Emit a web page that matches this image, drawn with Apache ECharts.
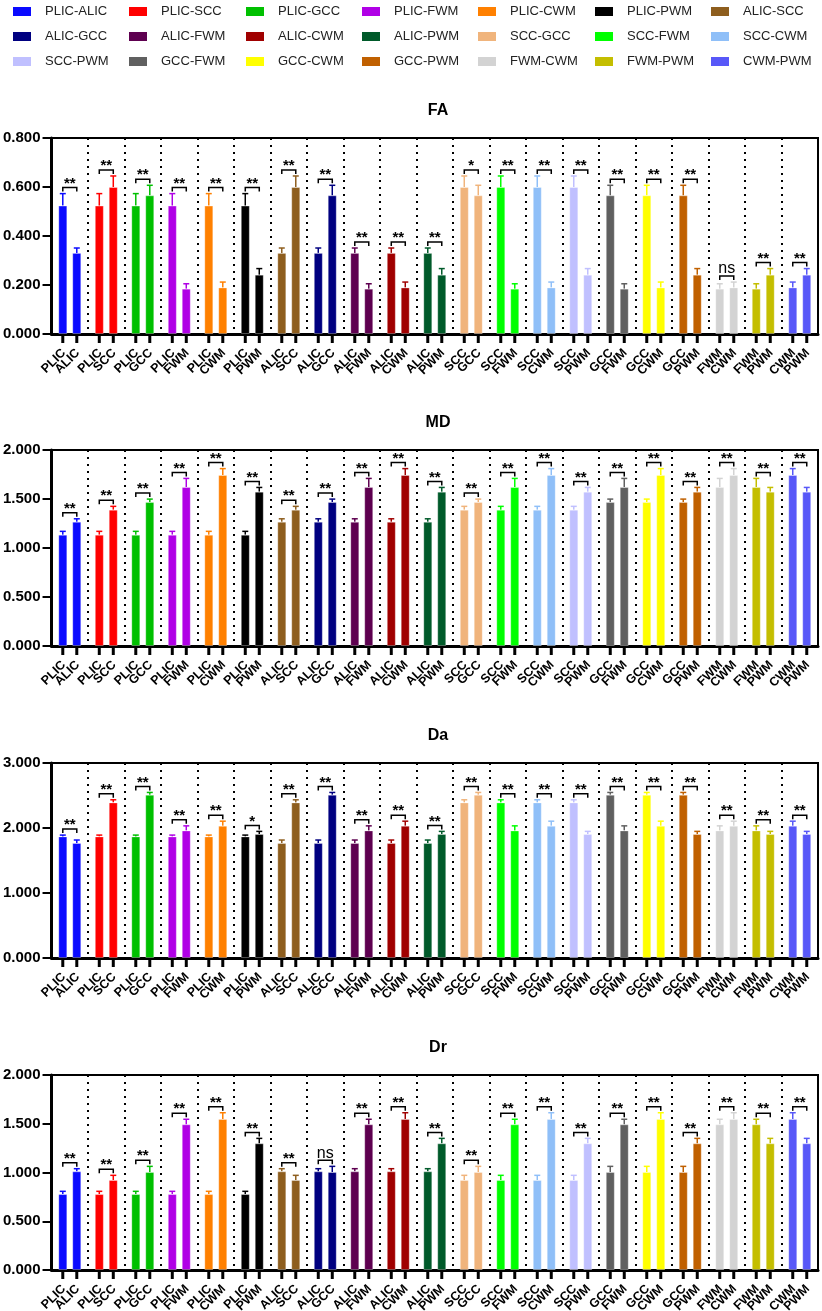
<!DOCTYPE html>
<html>
<head>
<meta charset="utf-8">
<script src="https://cdn.jsdelivr.net/npm/echarts@6/dist/echarts.min.js"></script>
<style>
  html, body { margin: 0; padding: 0; background: #fff; }
  #chart { width: 822px; height: 1311px; }
</style>
</head>
<body>
<div id="chart"></div>
<script>
// regions and the 21 pairwise comparisons
const regions = ['PLIC', 'ALIC', 'SCC', 'GCC', 'FWM', 'CWM', 'PWM'];
const pairs = [
  ['PLIC', 'ALIC'], ['PLIC', 'SCC'], ['PLIC', 'GCC'], ['PLIC', 'FWM'], ['PLIC', 'CWM'], ['PLIC', 'PWM'],
  ['ALIC', 'SCC'], ['ALIC', 'GCC'], ['ALIC', 'FWM'], ['ALIC', 'CWM'], ['ALIC', 'PWM'],
  ['SCC', 'GCC'], ['SCC', 'FWM'], ['SCC', 'CWM'], ['SCC', 'PWM'],
  ['GCC', 'FWM'], ['GCC', 'CWM'], ['GCC', 'PWM'],
  ['FWM', 'CWM'], ['FWM', 'PWM'],
  ['CWM', 'PWM']
];
const pairColors = [
  '#0a0aff', '#ff0000', '#00c000', '#b000e6', '#ff8000', '#000000', '#8e5e1e',
  '#000080', '#5e0050', '#a00000', '#005a2a', '#f0b47c', '#00ff00', '#8fbff8',
  '#c0c0ff', '#606060', '#ffff00', '#c06000', '#d3d3d3', '#c4be00', '#5858f8'
];

// mean and error (SD) per region, order as in regions
const faMean = [0.524, 0.331, 0.600, 0.566, 0.185, 0.190, 0.242];
const faErr  = [0.049, 0.020, 0.045, 0.041, 0.020, 0.022, 0.025];
const mdMean = [1.136, 1.268, 1.391, 1.469, 1.622, 1.745, 1.575];
const mdErr  = [0.034, 0.030, 0.034, 0.030, 0.088, 0.065, 0.043];
const daMean = [1.871, 1.769, 2.394, 2.512, 1.963, 2.035, 1.908];
const daErr  = [0.020, 0.046, 0.040, 0.035, 0.070, 0.070, 0.040];
const drMean = [0.779, 1.012, 0.923, 1.005, 1.494, 1.549, 1.299];
const drErr  = [0.028, 0.027, 0.048, 0.058, 0.052, 0.064, 0.051];

// significance marks per comparison
const faSig = ['**','**','**','**','**','**','**','**','**','**','**','*','**','**','**','**','**','**','ns','**','**'];
const mdSig = ['**','**','**','**','**','**','**','**','**','**','**','**','**','**','**','**','**','**','**','**','**'];
const daSig = ['**','**','**','**','**','*','**','**','**','**','**','**','**','**','**','**','**','**','**','**','**'];
const drSig = ['**','**','**','**','**','**','**','ns','**','**','**','**','**','**','**','**','**','**','**','**','**'];

// y axis ticks
const yMax = [0.8, 2, 3, 2];
const yStep = [0.2, 0.5, 1, 0.5];

const panels = [
  { title: 'FA', mean: faMean, err: faErr, sig: faSig, top: 138, height: 196 },
  { title: 'MD', mean: mdMean, err: mdErr, sig: mdSig, top: 450, height: 196 },
  { title: 'Da', mean: daMean, err: daErr, sig: daSig, top: 763, height: 195 },
  { title: 'Dr', mean: drMean, err: drErr, sig: drSig, top: 1075, height: 195 }
];

const FONT = '"Liberation Sans", Arial, sans-serif';
const pairNames = pairs.map(p => p[0] + '-' + p[1]);
const legendCols = [8, 124, 241, 357, 473, 590, 706];

function makeRenderer(mean, err, sig) {
  return function (params, api) {
    const i = api.value(0);
    const base = api.coord([i, 0]);
    const cx = base[0], y0 = base[1];
    const col = pairColors[i];
    const idx = [regions.indexOf(pairs[i][0]), regions.indexOf(pairs[i][1])];
    const xs = [cx - 7, cx + 7];
    const children = [];

    idx.forEach((r, k) => {
      const x = xs[k];
      const yMean = api.coord([i, mean[r]])[1];
      const yTop = api.coord([i, mean[r] + err[r]])[1];
      children.push({ type: 'line', shape: { x1: x, y1: yMean, x2: x, y2: yTop }, style: { stroke: col, lineWidth: 1.5 } });
      children.push({ type: 'line', shape: { x1: x - 3, y1: yTop, x2: x + 3, y2: yTop }, style: { stroke: col, lineWidth: 1.5 } });
      // tick under each bar
      children.push({ type: 'rect', shape: { x: x - 1.5, y: y0 + 1, width: 3, height: 8 }, style: { fill: '#000' } });
      children.push({
        type: 'text', x: x + 1, y: y0 + 17, rotation: Math.PI / 4,
        style: { text: pairs[i][k], align: 'right', verticalAlign: 'middle', font: 'bold 12.5px ' + FONT, fill: '#000' }
      });
    });

    // significance bracket
    const hi = Math.max(mean[idx[0]] + err[idx[0]], mean[idx[1]] + err[idx[1]]);
    const yb = api.coord([i, hi])[1] - 6;
    children.push({
      type: 'polyline',
      shape: { points: [[xs[0], yb + 4], [xs[0], yb], [xs[1], yb], [xs[1], yb + 4]] },
      style: { stroke: '#000', lineWidth: 1.5, fill: null }
    });
    const s = sig[i];
    children.push({
      type: 'text', x: cx, y: s === 'ns' ? yb - 7 : yb - 4,
      style: {
        text: s, align: 'center', verticalAlign: 'middle', fill: '#000',
        font: s === 'ns' ? '16px ' + FONT : 'bold 15px ' + FONT
      }
    });
    return { type: 'group', children: children };
  };
}

const chart = echarts.init(document.getElementById('chart'));

const grid = [], xAxis = [], yAxis = [], title = [], series = [];

panels.forEach((p, g) => {
  grid.push({ left: 49, right: 4, top: p.top, height: p.height, show: true, borderColor: '#000', borderWidth: 2 });
  title.push({
    text: p.title, left: 433, top: p.top - 40, textAlign: 'center',
    textStyle: { fontSize: 16, fontWeight: 'bold', color: '#000', fontFamily: FONT }
  });
  xAxis.push({
    type: 'category', gridIndex: g, data: pairNames, boundaryGap: true,
    axisLine: { lineStyle: { color: '#000', width: 3 } },
    axisTick: { show: false },
    axisLabel: { show: false },
    splitLine: { show: true, interval: 0, lineStyle: { color: '#000', width: 2, type: [2, 5] } }
  });
  yAxis.push({
    type: 'value', gridIndex: g, min: 0, max: yMax[g], interval: yStep[g],
    axisLine: { show: true, lineStyle: { color: '#000', width: 3 } },
    axisTick: { show: true, length: 9, lineStyle: { color: '#000', width: 2 } },
    axisLabel: { formatter: v => v.toFixed(3), fontSize: 15, fontWeight: 'bold', color: '#000', fontFamily: FONT, margin: 11 },
    splitLine: { show: false }
  });

  [0, 1].forEach(k => {
    series.push({
      type: 'bar', xAxisIndex: g, yAxisIndex: g, barWidth: 9, barGap: '55%', silent: true,
      itemStyle: { borderColor: 'rgba(255,255,255,0.3)', borderWidth: 1 },
      data: pairs.map((pr, i) => ({ value: p.mean[regions.indexOf(pr[k])], itemStyle: { color: pairColors[i] } }))
    });
  });

  series.push({
    type: 'custom', xAxisIndex: g, yAxisIndex: g, silent: true, clip: false,
    renderItem: makeRenderer(p.mean, p.err, p.sig),
    encode: { x: 0, y: 1 },
    data: pairs.map((pr, i) => [i, 0])
  });
});

// legend-only series
pairNames.forEach((n, i) => {
  series.push({ type: 'line', name: n, data: [], xAxisIndex: 0, yAxisIndex: 0, itemStyle: { color: pairColors[i] }, lineStyle: { color: pairColors[i] } });
});

const legend = legendCols.map((x, c) => ({
  left: x, top: 0, orient: 'vertical', icon: 'rect', itemWidth: 18, itemHeight: 9, itemGap: 12,
  selectedMode: false,
  data: [pairNames[c], pairNames[c + 7], pairNames[c + 14]],
  textStyle: { fontSize: 13, color: '#222', fontFamily: FONT, padding: [0, 0, 0, 9] }
}));

chart.setOption({
  animation: false,
  title: title,
  legend: legend,
  grid: grid,
  xAxis: xAxis,
  yAxis: yAxis,
  series: series
});
</script>
</body>
</html>
